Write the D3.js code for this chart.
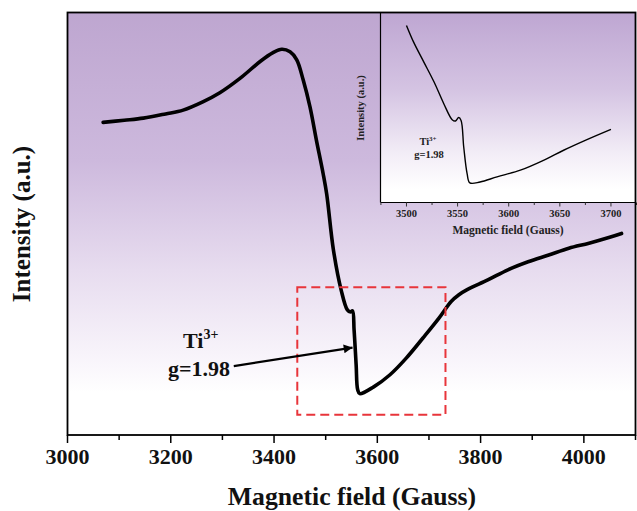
<!DOCTYPE html>
<html>
<head>
<meta charset="utf-8">
<script src="https://cdn.jsdelivr.net/npm/d3@7"></script>
<style>
  html, body { margin: 0; padding: 0; background: #fff; }
  svg { display: block; }
</style>
</head>
<body>
<svg id="chart" width="637" height="511"></svg>
<script>
// ---- Main spectrum data (Magnetic field in Gauss, intensity in a.u.) ----
const mainField = [3069, 3110, 3147, 3190, 3224, 3263, 3295, 3334, 3373, 3398, 3415, 3431, 3444, 3456.5,
  3469.5, 3482, 3495, 3502, 3515, 3530, 3542, 3548, 3552, 3555, 3559, 3562, 3566, 3593, 3624, 3656, 3688,
  3719, 3743, 3758, 3774, 3814, 3853, 3892, 3932, 3971, 4010, 4050, 4073];
const mainIntensity = [74.0, 74.5, 75.0, 76.0, 76.9, 78.9, 81.0, 84.4, 88.4, 90.5, 91.3, 90.7, 88.8, 84.0,
  77.7, 69.8, 61.9, 57.0, 43.8, 34.3, 29.6, 29.1, 29.4, 24.9, 16.6, 10.7, 9.8, 11.4, 14.2, 18.2, 22.9,
  27.6, 31.6, 33.2, 34.4, 36.7, 39.1, 41.0, 42.6, 44.2, 45.4, 46.8, 47.7];
const mainTicks = [3000, 3100, 3200, 3300, 3400, 3500, 3600, 3700, 3800, 3900, 4000, 4100];
const mainTickLabels = [3000, 3200, 3400, 3600, 3800, 4000];

// ---- Inset data (zoom on the Ti3+ signal) ----
const insetField = [3500, 3507, 3517, 3527, 3536.5, 3544.7, 3548, 3551, 3553.4, 3556, 3559.3, 3562, 3572,
  3588.6, 3611.4, 3634, 3653.7, 3676.5, 3700];
const insetIntensity = [93.2, 84.4, 73.9, 63.4, 52.0, 43.6, 42.9, 44.7, 43.2, 29.2, 15.2, 10.3, 10.8,
  13.5, 17.0, 22.2, 27.5, 33.1, 38.5];
const insetTicks = [3475, 3500, 3525, 3550, 3575, 3600, 3625, 3650, 3675, 3700, 3725];
const insetTickLabels = [3500, 3550, 3600, 3650, 3700];

// Highlight box (field range, intensity range) and annotation arrow
const boxField = [3445, 3732];
const boxIntensity = [4.8, 35];
const arrowFrom = [3322, 16.3];
const arrowTo = [3552, 20.7];

const FONT = "'Liberation Serif', 'Times New Roman', Tinos, 'DejaVu Serif', serif";

const svg = d3.select("#chart");
const m = { left: 67.5, right: 635.5, top: 12.5, bottom: 435 };

const x = d3.scaleLinear().domain([3000, 4100]).range([m.left, m.right]);
const y = d3.scaleLinear().domain([0, 100]).range([m.bottom, m.top]);

const defs = svg.append("defs");
const g1 = defs.append("linearGradient").attr("id", "bgMain").attr("x1", 0).attr("y1", 0).attr("x2", 0).attr("y2", 1);
[[0, "#bea6d0"], [0.35, "#cdb9dd"], [0.61, "#e7dcef"], [0.84, "#faf7fc"], [0.9, "#ffffff"], [1, "#ffffff"]]
  .forEach(s => g1.append("stop").attr("offset", s[0]).attr("stop-color", s[1]));

svg.append("rect").attr("x", m.left).attr("y", m.top).attr("width", m.right - m.left).attr("height", m.bottom - m.top)
  .attr("fill", "url(#bgMain)");

// main x axis
const xAxis = svg.append("g").attr("transform", `translate(0,${m.bottom})`);
xAxis.selectAll("line").data(mainTicks).enter().append("line")
  .attr("x1", d => x(d)).attr("x2", d => x(d)).attr("y1", 0)
  .attr("y2", d => mainTickLabels.includes(d) ? 8 : 5)
  .attr("stroke", "#000").attr("stroke-width", 1.5);
xAxis.selectAll("text").data(mainTickLabels).enter().append("text")
  .attr("x", d => x(d)).attr("y", 29).attr("text-anchor", "middle")
  .attr("font-family", FONT).attr("font-weight", "bold")
  .attr("font-size", 22).attr("fill", "#111").text(d => d);

// main curve
const line = d3.line().x((d, i) => x(mainField[i])).y(d => y(d)).curve(d3.curveCatmullRom.alpha(0.5));
svg.append("path").datum(mainIntensity).attr("d", line)
  .attr("fill", "none").attr("stroke", "#000").attr("stroke-width", 3.6)
  .attr("stroke-linejoin", "round").attr("stroke-linecap", "round");

// ---- inset ----
const im = { left: 380.5, right: m.right, top: m.top, bottom: 202.5 };
const g2 = defs.append("linearGradient").attr("id", "bgInset").attr("x1", 0).attr("y1", 0).attr("x2", 0).attr("y2", 1);
[[0, "#bea6d2"], [0.4, "#d4c3e2"], [0.75, "#f3eef7"], [0.93, "#ffffff"], [1, "#ffffff"]]
  .forEach(s => g2.append("stop").attr("offset", s[0]).attr("stop-color", s[1]));
const xi = d3.scaleLinear().domain([3474.6, 3724]).range([im.left, im.right]);
const yi = d3.scaleLinear().domain([0, 100]).range([im.bottom, im.top]);
svg.append("rect").attr("x", im.left).attr("y", im.top).attr("width", im.right - im.left).attr("height", im.bottom - im.top)
  .attr("fill", "url(#bgInset)");
const iline = d3.line().x((d, i) => xi(insetField[i])).y(d => yi(d)).curve(d3.curveCatmullRom.alpha(0.5));
svg.append("path").datum(insetIntensity).attr("d", iline)
  .attr("fill", "none").attr("stroke", "#000").attr("stroke-width", 1.4).attr("stroke-linejoin", "round");
svg.append("line").attr("x1", im.left).attr("x2", im.left).attr("y1", im.top).attr("y2", im.bottom).attr("stroke", "#000").attr("stroke-width", 1.2);
svg.append("line").attr("x1", im.left).attr("x2", im.right).attr("y1", im.bottom).attr("y2", im.bottom).attr("stroke", "#000").attr("stroke-width", 1.2);
const ixAxis = svg.append("g").attr("transform", `translate(0,${im.bottom})`);
ixAxis.selectAll("line").data(insetTicks).enter().append("line")
  .attr("x1", d => xi(d)).attr("x2", d => xi(d)).attr("y1", 0)
  .attr("y2", d => insetTickLabels.includes(d) ? 4 : 2.5)
  .attr("stroke", "#333").attr("stroke-width", 1);
ixAxis.selectAll("text").data(insetTickLabels).enter().append("text")
  .attr("x", d => xi(d)).attr("y", 14.5).attr("text-anchor", "middle")
  .attr("font-family", FONT).attr("font-weight", "bold")
  .attr("font-size", 10.5).attr("fill", "#222").text(d => d);
svg.append("text").attr("x", 508).attr("y", 234).attr("text-anchor", "middle")
  .attr("font-family", FONT).attr("font-weight", "bold")
  .attr("font-size", 11.5).attr("fill", "#222").text("Magnetic field (Gauss)");
svg.append("text").attr("transform", "translate(364,108) rotate(-90)").attr("text-anchor", "middle")
  .attr("font-family", FONT).attr("font-weight", "bold")
  .attr("font-size", 10.5).attr("fill", "#222").text("Intensity (a.u.)");
const it = svg.append("text").attr("x", 428).attr("y", 145).attr("text-anchor", "middle")
  .attr("font-family", FONT).attr("font-weight", "bold").attr("font-size", 10.5).attr("fill", "#222");
it.append("tspan").text("Ti");
it.append("tspan").attr("dy", -4).attr("font-size", 7).text("3+");
svg.append("text").attr("x", 429).attr("y", 158).attr("text-anchor", "middle")
  .attr("font-family", FONT).attr("font-weight", "bold").attr("font-size", 10.5).attr("fill", "#222").text("g=1.98");

// main frame
svg.append("rect").attr("x", m.left).attr("y", m.top).attr("width", m.right - m.left).attr("height", m.bottom - m.top)
  .attr("fill", "none").attr("stroke", "#000").attr("stroke-width", 1.8);

// highlight box
svg.append("rect").attr("x", x(boxField[0])).attr("y", y(boxIntensity[1]))
  .attr("width", x(boxField[1]) - x(boxField[0])).attr("height", y(boxIntensity[0]) - y(boxIntensity[1]))
  .attr("fill", "none").attr("stroke", "#e8353b").attr("stroke-width", 2).attr("stroke-dasharray", "9,5");

// arrow
defs.append("marker").attr("id", "arrow").attr("viewBox", "0 0 10 10").attr("refX", 10).attr("refY", 5)
  .attr("markerWidth", 6).attr("markerHeight", 4).attr("orient", "auto").attr("markerUnits", "strokeWidth")
  .append("path").attr("d", "M0,0 L10,5 L0,10 Z").attr("fill", "#000");
svg.append("line").attr("x1", x(arrowFrom[0])).attr("y1", y(arrowFrom[1])).attr("x2", x(arrowTo[0])).attr("y2", y(arrowTo[1]))
  .attr("stroke", "#000").attr("stroke-width", 2.2).attr("marker-end", "url(#arrow)");

// Ti3+ annotation
const t = svg.append("text").attr("x", 183).attr("y", 348)
  .attr("font-family", FONT).attr("font-weight", "bold").attr("font-size", 22).attr("fill", "#111");
t.append("tspan").text("Ti");
t.append("tspan").attr("dy", -9).attr("font-size", 14).text("3+");
svg.append("text").attr("x", 199).attr("y", 376).attr("text-anchor", "middle")
  .attr("font-family", FONT).attr("font-weight", "bold").attr("font-size", 22).attr("fill", "#111").text("g=1.98");

// axis titles
svg.append("text").attr("x", 352).attr("y", 505).attr("text-anchor", "middle")
  .attr("font-family", FONT).attr("font-weight", "bold").attr("font-size", 25.7).attr("fill", "#111")
  .text("Magnetic field (Gauss)");
svg.append("text").attr("transform", "translate(30,224) rotate(-90)").attr("text-anchor", "middle")
  .attr("font-family", FONT).attr("font-weight", "bold").attr("font-size", 25).attr("fill", "#111")
  .text("Intensity (a.u.)");
</script>
</body>
</html>
